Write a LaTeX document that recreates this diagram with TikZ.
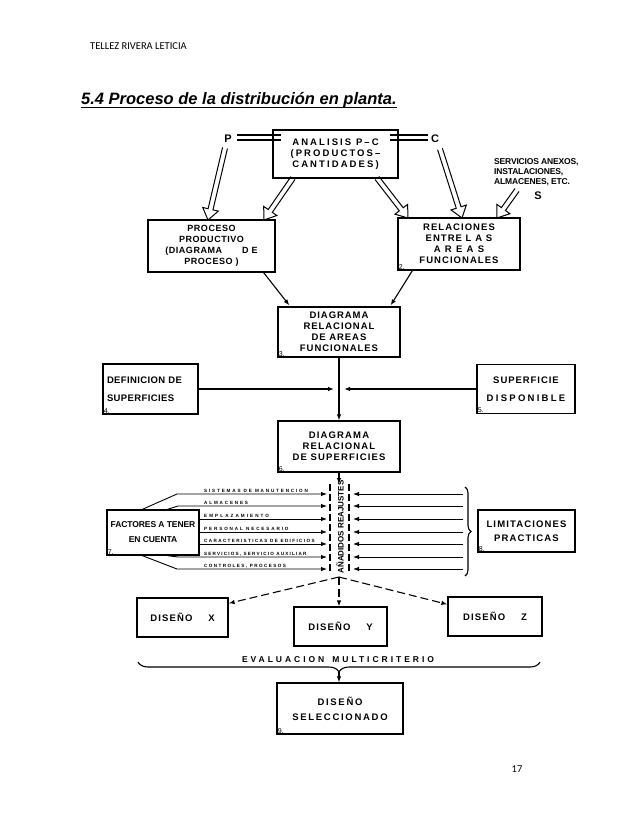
\documentclass[tikz,border=0pt]{standalone}
\usepackage{fontspec}
\setmainfont{Liberation Sans}
\newfontfamily\hdr{Carlito}
\usetikzlibrary{arrows.meta,calc,decorations.pathreplacing}
\newcommand\bxf[2][9.5]{\fontsize{#1}{11}\selectfont\bfseries\addfontfeatures{LetterSpace=#2}}
\newcommand\labf[1]{\fontsize{4.6}{5}\selectfont\bfseries\addfontfeatures{LetterSpace=#1}}
\newcommand\fatarrow[2]{%
  \coordinate (fah) at ($(#2)!11pt!(#1)$);
  \draw[fat] ($(#1)!2.5pt!90:(#2)$) -- ($(fah)!2.5pt!-90:(#1)$) -- ($(fah)!8pt!-90:(#1)$)
    -- (#2) -- ($(fah)!8pt!90:(#1)$) -- ($(fah)!2.5pt!90:(#1)$) -- ($(#1)!2.5pt!-90:(#2)$);}
\begin{document}
\begin{tikzpicture}[x=1pt,y=-1pt,
  box/.style={draw, line width=1.3pt, align=center, inner sep=0pt},
  arr/.style={-{Latex[length=6pt,width=4.5pt]}},
  ln/.style={line width=1.1pt},
  thin/.style={line width=0.9pt},
  dsh/.style={dash pattern=on 8pt off 4pt, line width=1.1pt},
  dsh2/.style={dash pattern=on 7pt off 3pt, line width=1.1pt},
  numl/.style={font=\fontsize{7}{7}\selectfont, inner sep=1.3pt, anchor=south west},
  fat/.style={line width=1pt, line join=miter},
  lab/.style={anchor=base west, inner sep=0pt}]
\fill[white] (0,0) rectangle (638,826);
\useasboundingbox (0,0) rectangle (638,826);

% header, title, page number
\node[anchor=base west, inner sep=0pt, font=\hdr\fontsize{10.5}{12}\selectfont] (hd) at (90,50) {TELLEZ RIVERA LETICIA};
\node[anchor=base west, inner sep=0pt, font=\fontsize{16.5}{18}\selectfont\bfseries\itshape] (ttl) at (81,105) {5.4 Proceso de la distribución en planta.};
\draw[line width=1.2pt] ([yshift=-2.5pt]ttl.base west) -- ([yshift=-2.5pt]ttl.base east);
\node[anchor=base, inner sep=0pt, font=\hdr\fontsize{10.5}{12}\selectfont] (pg) at (517,772) {17};

% top part
\node[box, minimum width=125pt, minimum height=48pt, font={\bxf{22}}] (ana) at (335.5,154) {ANALISIS P–C\\(PRODUCTOS–\\CANTIDADES)};
\node[font=\fontsize{11}{12}\selectfont\bfseries] (P) at (228,139) {P};
\node[font=\fontsize{11}{12}\selectfont\bfseries] (C) at (435,139) {C};
\draw[ln] (237,135) -- (281,135) (237,140) -- (281,140);
\draw[ln] (390,135) -- (428,135) (390,140) -- (428,140);
\node[anchor=north west, align=left, inner sep=0pt, font=\fontsize{8.5}{10}\selectfont\bfseries\addfontfeatures{LetterSpace=-2}] (srv) at (494,158) {SERVICIOS ANEXOS,\\INSTALACIONES,\\ALMACENES, ETC.};
\node[font=\fontsize{11}{12}\selectfont\bfseries] (S) at (538,196) {S};

\node[box, minimum width=127pt, minimum height=52pt, font={\bxf[9]{6}}] (proc) at (211.5,246) {PROCESO\\PRODUCTIVO\\(DIAGRAMA\hspace{20pt}D E\\PROCESO )};
\node[box, minimum width=122pt, minimum height=52pt, font={\bxf{11}}] (rel) at (459,244) {RELACIONES\\ENTRE {\addfontfeatures{LetterSpace=40}LAS}\\{\addfontfeatures{LetterSpace=45}AREAS}\\FUNCIONALES};
\node[numl] at (rel.south west) {2.};

\coordinate (a1s) at (225,148); \coordinate (a1e) at (208,220);
\coordinate (a2s) at (293,178); \coordinate (a2e) at (264,220);
\coordinate (a3s) at (377,178); \coordinate (a3e) at (408,218);
\coordinate (a4s) at (440,149); \coordinate (a4e) at (462,218);
\coordinate (a5s) at (517,190); \coordinate (a5e) at (497,218);
\fatarrow{a1s}{a1e}
\fatarrow{a2s}{a2e}
\fatarrow{a3s}{a3e}
\fatarrow{a4s}{a4e}
\fatarrow{a5s}{a5e}

\node[box, minimum width=122pt, minimum height=50pt, font={\bxf{10}}] (dra) at (339,332) {DIAGRAMA\\RELACIONAL\\DE AREAS\\FUNCIONALES};
\node[numl] at (dra.south west) {3.};
\draw[ln,arr] ($(proc.south east)+(-12,0)$) -- ($(dra.north west)+(12,-1)$);
\draw[ln,arr] ($(rel.south west)+(15,0)$) -- ($(dra.north east)+(-10,-1)$);

% middle part
\node[box, minimum width=95pt, minimum height=50pt, align=left, text width=87pt, font={\bxf{4}}] (def) at (150.5,389) {DEFINICION DE\\[7pt]SUPERFICIES};
\node[numl] at (def.south west) {4.};
\node[box, minimum width=98pt, minimum height=49pt, font={\bxf{10}}] (sup) at (526,389) {SUPERFICIE\\[7pt]{\addfontfeatures{LetterSpace=24}DISPONIBLE}};
\node[numl] at (sup.south west) {5.};
\node[box, minimum width=122pt, minimum height=51pt, font={\bxf{12}}] (drs) at (339,446.5) {DIAGRAMA\\RELACIONAL\\DE SUPERFICIES};
\node[numl] at (drs.south west) {6.};
\coordinate (jx) at (339,389);
\draw[ln,arr] (dra.south) -- (drs.north);
\draw[ln,arr] (def.east) -- ($(jx)+(-5,0)$);
\draw[ln,arr] (sup.west) -- ($(jx)+(5,0)$);

% adjustments
\coordinate (aj) at (339,484);
\draw[ln,arr] (drs.south) -- (aj);
\draw[dsh2] (330,484) -- (330,574);
\draw[dsh2] (349,484) -- (349,574);
\node[rotate=90, inner sep=0pt, font=\fontsize{8}{8}\selectfont\bfseries] (adj) at (340,527) {AÑADIDOS REAJUSTES};

\node[box, minimum width=92pt, minimum height=45pt, font={\bxf[8.5]{-1}}] (fac) at (153,532.5) {FACTORES A TENER\\[4pt]EN CUENTA};
\node[numl] at (fac.south west) {7.};
\node[box, minimum width=97pt, minimum height=42pt, font={\bxf{12}}] (lim) at (526.5,531) {LIMITACIONES\\[3pt]PRACTICAS};
\node[numl] at (lim.south west) {8.};

\draw[thin,arr] ($(fac.north west)+(36,0)$) -- (177,494) -- (327,494);
\draw[thin,arr] ($(fac.north west)+(61,0)$) -- (178,506) -- (327,506);
\draw[thin,arr] (fac.east |- {(0,519)}) -- (327,519);
\draw[thin,arr] (fac.east |- {(0,532)}) -- (327,532);
\draw[thin,arr] (fac.east |- {(0,544)}) -- (327,544);
\draw[thin,arr] ($(fac.south west)+(61,0)$) -- (178,557) -- (327,557);
\draw[thin,arr] ($(fac.south west)+(36,0)$) -- (177,569) -- (327,569);
\node[lab, font={\labf{40}}] (l1) at (204,492.3) {SISTEMAS DE MANUTENCION};
\node[lab, font={\labf{40}}] (l2) at (204,504.3) {ALMACENES};
\node[lab, font={\labf{45}}] (l3) at (204,517.3) {EMPLAZAMIENTO};
\node[lab, font={\labf{41}}] (l4) at (204,530.3) {PERSONAL NECESARIO};
\node[lab, font={\labf{30}}] (l5) at (204,542.3) {CARACTERISTICAS DE EDIFICIOS};
\node[lab, font={\labf{26}}] (l6) at (204,555.3) {SERVICIOS, SERVICIO AUXILIAR};
\node[lab, font={\labf{31}}] (l7) at (204,567.3) {CONTROLES, PROCESOS};

\foreach \yy in {494,506,519,532,544,557,569} {
  \draw[thin,arr] (463,\yy) -- (353,\yy);
}
\draw[ln, decorate, decoration={brace, amplitude=6pt}] (465,487) -- (465,576);

% designs
\node[box, minimum width=91pt, minimum height=39pt, font={\bxf{12}}] (dx) at (182.5,617.5) {DISEÑO\hspace{16pt}X};
\node[box, minimum width=93pt, minimum height=39pt, font={\bxf{12}}] (dy) at (340.5,626.5) {DISEÑO\hspace{16pt}Y};
\node[box, minimum width=94pt, minimum height=39pt, font={\bxf{12}}] (dz) at (495,616.5) {DISEÑO\hspace{16pt}Z};
\coordinate (dv) at (339,577);
\draw[dsh,arr] (dv) -- ($(dx.north east)+(0,6)$);
\draw[dsh,arr] (dv) -- (dy.north -| dv);
\draw[dsh,arr] (dv) -- ($(dz.north west)+(0,8)$);

% evaluation
\draw[ln, decorate, decoration={brace, amplitude=10pt, mirror}] (138,662) -- (540,662);
\node[inner sep=0pt, font={\bxf[8.5]{35}}] (ev) at (338,660) {EVALUACION\hspace{8pt}MULTICRITERIO};
\node[box, minimum width=126pt, minimum height=51pt, font={\bxf{18}}] (sel) at (340,708.5) {DISEÑO\\[4pt]SELECCIONADO};
\node[numl] at (sel.south west) {9.};
\draw[ln,arr] (339,672) -- (sel.north -| dv);
\end{tikzpicture}
\end{document}
